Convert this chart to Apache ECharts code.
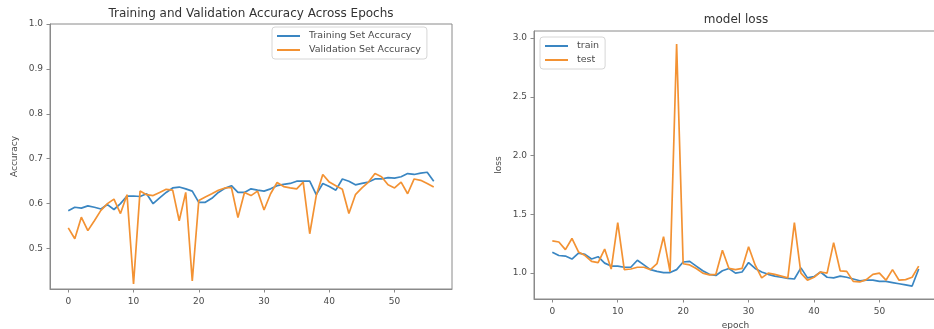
<!DOCTYPE html>
<html>
<head>
<meta charset="utf-8">
<script src="https://cdn.jsdelivr.net/npm/echarts@6/dist/echarts.min.js"></script>
<style>
  html, body { margin: 0; padding: 0; background: #fff; }
  #chart { width: 934px; height: 329px; }
</style>
</head>
<body>
<div id="chart"></div>
<script>
// Epoch index shared by both panels
const epochs = [0,1,2,3,4,5,6,7,8,9,10,11,12,13,14,15,16,17,18,19,20,21,22,23,24,25,26,27,28,29,30,31,32,33,34,35,36,37,38,39,40,41,42,43,44,45,46,47,48,49,50,51,52,53,54,55,56];

// Accuracy per epoch
const trainAcc = [0.584,0.592,0.590,0.595,0.592,0.588,0.598,0.587,0.600,0.617,0.617,0.616,0.622,0.600,0.613,0.625,0.635,0.637,0.633,0.628,0.603,0.603,0.612,0.625,0.634,0.640,0.625,0.625,0.633,0.630,0.628,0.633,0.640,0.643,0.645,0.650,0.650,0.650,0.620,0.645,0.638,0.630,0.655,0.650,0.642,0.645,0.648,0.655,0.655,0.658,0.657,0.660,0.667,0.665,0.668,0.670,0.650];
const valAcc = [0.546,0.522,0.570,0.540,0.562,0.585,0.600,0.610,0.578,0.620,0.421,0.628,0.620,0.618,0.625,0.632,0.630,0.562,0.625,0.428,0.607,0.615,0.622,0.630,0.635,0.636,0.569,0.625,0.618,0.628,0.586,0.622,0.647,0.638,0.635,0.633,0.648,0.533,0.618,0.665,0.648,0.640,0.632,0.578,0.620,0.635,0.648,0.667,0.660,0.642,0.635,0.648,0.622,0.655,0.652,0.645,0.637];

// Loss per epoch
const trainLoss = [1.178,1.150,1.145,1.120,1.170,1.160,1.120,1.140,1.085,1.060,1.060,1.050,1.050,1.110,1.070,1.030,1.015,1.005,1.005,1.030,1.095,1.100,1.060,1.020,0.990,0.980,1.020,1.040,1.000,1.010,1.090,1.040,1.010,0.990,0.975,0.965,0.955,0.950,1.045,0.960,0.970,1.010,0.965,0.960,0.975,0.965,0.950,0.935,0.940,0.940,0.930,0.930,0.920,0.910,0.900,0.890,1.035];
const testLoss = [1.275,1.265,1.200,1.295,1.180,1.150,1.100,1.090,1.205,1.035,1.430,1.030,1.035,1.050,1.050,1.030,1.080,1.310,1.010,2.950,1.080,1.070,1.040,1.000,0.985,0.990,1.195,1.040,1.030,1.040,1.225,1.070,0.960,1.000,0.990,0.975,0.960,1.430,1.000,0.940,0.965,1.010,1.000,1.260,1.020,1.015,0.930,0.925,0.945,0.990,1.000,0.940,1.030,0.940,0.945,0.965,1.060];

// Tick positions
const epochTicks = [0,10,20,30,40,50];
const accTicks = [0.5,0.6,0.7,0.8,0.9,1.0];
const lossTicks = [1.0,1.5,2.0,2.5,3.0];

const BLUE = '#3a86c2';
const ORANGE = '#f39233';
const SPINE = '#8a8a8a';
const TEXT = '#4a4a4a';
const FONT = 'DejaVu Sans';

const pairs = (ys) => epochs.map((e, i) => [e, ys[i]]);

function xAxisCfg(gridIndex, extra) {
  return Object.assign({
    type: 'value', gridIndex, min: -2.8, max: 58.8,
    splitLine: { show: false },
    axisLine: { show: true, onZero: false, lineStyle: { color: SPINE, width: 1 } },
    axisTick: { show: true, length: 3.5, lineStyle: { color: SPINE }, customValues: epochTicks },
    axisLabel: { color: TEXT, fontFamily: FONT, fontSize: 9, margin: 8, customValues: epochTicks },
    nameTextStyle: { color: TEXT, fontFamily: FONT, fontSize: 9 }
  }, extra || {});
}

function yAxisCfg(gridIndex, min, max, ticks, extra) {
  return Object.assign({
    type: 'value', gridIndex, min, max,
    splitLine: { show: false },
    axisLine: { show: true, onZero: false, lineStyle: { color: SPINE, width: 1 } },
    axisTick: { show: true, length: 3.5, lineStyle: { color: SPINE }, customValues: ticks },
    axisLabel: { color: TEXT, fontFamily: FONT, fontSize: 9, margin: 7,
                 customValues: ticks, formatter: (v) => v.toFixed(1) },
    nameLocation: 'middle', nameRotate: 90, nameGap: 31,
    nameTextStyle: { color: TEXT, fontFamily: FONT, fontSize: 9 }
  }, extra || {});
}

function lineSeries(name, xi, yi, data, color) {
  return {
    name, type: 'line', xAxisIndex: xi, yAxisIndex: yi, data: pairs(data),
    symbol: 'none', smooth: false, animation: false,
    lineStyle: { color, width: 1.7 }, itemStyle: { color }
  };
}

const legendBase = {
  orient: 'vertical', icon: 'rect', itemWidth: 23, itemHeight: 2, itemGap: 4,
  padding: [4, 6, 4, 5], borderColor: '#d6d6d6', borderWidth: 1, borderRadius: 3,
  backgroundColor: 'rgba(255,255,255,0.85)',
  textStyle: { color: TEXT, fontFamily: FONT, fontSize: 9.5, padding: [0, 0, 0, 4] },
  selectedMode: false
};

const gridBase = {
  show: true, borderColor: SPINE, borderWidth: 1, backgroundColor: 'transparent',
  containLabel: false, outerBoundsMode: 'none'
};

const chart = echarts.init(document.getElementById('chart'), null, { renderer: 'canvas' });
chart.setOption({
  backgroundColor: '#ffffff',
  animation: false,
  title: [
    { text: 'Training and Validation Accuracy Across Epochs', left: 251, top: 8, textAlign: 'center', padding: 0,
      textStyle: { color: '#333', fontFamily: FONT, fontSize: 12, fontWeight: 'normal' } },
    { text: 'model loss', left: 736, top: 14, textAlign: 'center', padding: 0,
      textStyle: { color: '#333', fontFamily: FONT, fontSize: 12, fontWeight: 'normal' } }
  ],
  legend: [
    Object.assign({}, legendBase, { left: 272, top: 27, data: ['Training Set Accuracy', 'Validation Set Accuracy'] }),
    Object.assign({}, legendBase, { left: 540, top: 37, data: ['train', 'test'] })
  ],
  grid: [
    Object.assign({}, gridBase, { left: 50, top: 24, width: 402, height: 265 }),
    Object.assign({}, gridBase, { left: 534, top: 31, width: 403, height: 268 })
  ],
  xAxis: [
    xAxisCfg(0),
    xAxisCfg(1, { name: 'epoch', nameLocation: 'middle', nameGap: 20 })
  ],
  yAxis: [
    yAxisCfg(0, 0.41, 1.0, accTicks, { name: 'Accuracy' }),
    yAxisCfg(1, 0.78, 3.06, lossTicks, { name: 'loss' })
  ],
  series: [
    lineSeries('Training Set Accuracy', 0, 0, trainAcc, BLUE),
    lineSeries('Validation Set Accuracy', 0, 0, valAcc, ORANGE),
    lineSeries('train', 1, 1, trainLoss, BLUE),
    lineSeries('test', 1, 1, testLoss, ORANGE)
  ]
});
</script>
</body>
</html>
